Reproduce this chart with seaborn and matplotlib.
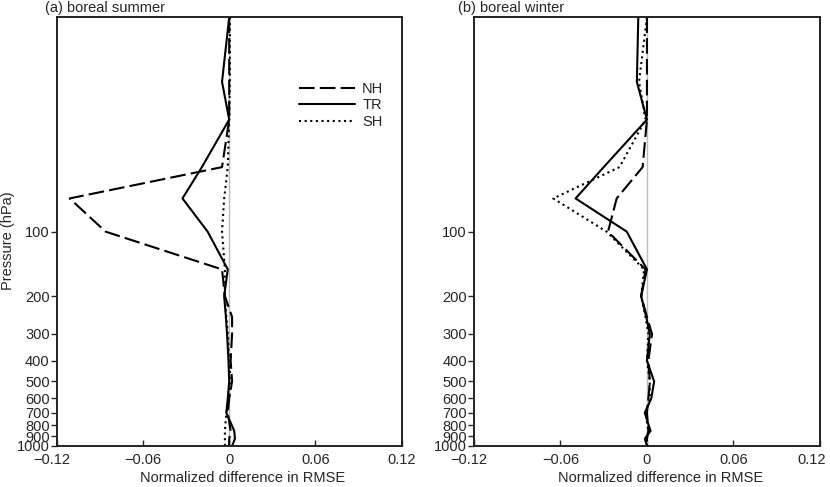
import numpy as np
import pandas as pd
import matplotlib
matplotlib.use("Agg")
import matplotlib.pyplot as plt
import matplotlib.transforms as mtrans
import seaborn as sns

# pressure levels (hPa), top to bottom
levels = [10, 20, 30, 50, 70, 100, 150, 200, 250, 300, 400, 500, 600, 700, 850, 925, 1000]

# (a) boreal summer
summer_nh = [0.0, 0.0, 0.0, -0.005, -0.111, -0.086, -0.005, -0.003, 0.002, 0.002, 0.001, 0.002, 0.0, -0.001, 0.001, 0.0, 0.0]
summer_tr = [0.0, -0.005, 0.0, -0.019, -0.0325, -0.015, -0.001, -0.0035, -0.0023, -0.0015, -0.0005, 0.0, -0.001, -0.002, 0.0035, 0.004, 0.002]
summer_sh = [0.0005, 0.0005, 0.0, -0.001, -0.0035, -0.005, -0.003, -0.003, -0.002, -0.001, 0.0, 0.001, 0.0, -0.002, -0.003, -0.003, -0.003]

# (b) boreal winter
winter_nh = [0.0, 0.0, 0.0, -0.003, -0.021, -0.027, -0.001, -0.004, 0.0, 0.0035, 0.001, 0.002, 0.001, 0.0, 0.001, 0.0, 0.0]
winter_tr = [-0.006, -0.007, 0.0, -0.030, -0.0495, -0.014, 0.0, -0.004, -0.0005, 0.002, 0.0, 0.005, 0.003, -0.0015, 0.0025, -0.0015, 0.0]
winter_sh = [0.0, -0.0055, -0.001, -0.019, -0.065, -0.028, -0.002, -0.004, -0.001, 0.001, 0.0, 0.002, 0.002, -0.001, 0.001, 0.0, 0.0]

regions = ["NH", "TR", "SH"]
xticks = [-0.12, -0.06, 0, 0.06, 0.12]
xticklabels = ["\u22120.12", "\u22120.06", "0", "0.06", "0.12"]
yticks = [100, 200, 300, 400, 500, 600, 700, 800, 900, 1000]

sns.set_style("white")
plt.rcParams["font.family"] = ["Liberation Sans", "DejaVu Sans"]
FS = 10.5


def make_df(nh, tr, sh):
    rows = []
    for name, vals in zip(regions, [nh, tr, sh]):
        for p, v in zip(levels, vals):
            rows.append({"region": name, "pres": p, "diff": v})
    return pd.DataFrame(rows)


def shift_label(lab, dx_px):
    lab.set_transform(lab.get_transform() + mtrans.ScaledTranslation(dx_px / 100, 0, fig.dpi_scale_trans))


fig = plt.figure(figsize=(8.3, 4.87), dpi=100)
ax1 = fig.add_axes([0.0683, 0.0842, 0.4157, 0.8803])
ax2 = fig.add_axes([0.571, 0.0842, 0.4169, 0.8803])

styles = {"NH": (0, (7.5, 2.5)), "TR": "-", "SH": (0, (1, 1.7))}

panels = [
    (ax1, make_df(summer_nh, summer_tr, summer_sh)),
    (ax2, make_df(winter_nh, winter_tr, winter_sh)),
]

for ax, df in panels:
    ax.axvline(0, color="#bbbbbb", lw=1, zorder=1)
    for name in regions:
        sub = df[df["region"] == name]
        sns.lineplot(data=sub, x="diff", y="pres", ax=ax, sort=False,
                     estimator=None, orient="y", color="black", lw=1.5,
                     linestyle=styles[name], label=name, legend=False)
    ax.set_yscale("log")
    ax.set_ylim(1000, 10)
    ax.set_xlim(-0.12, 0.12)
    ax.set_yticks(yticks)
    ax.set_yticklabels([str(t) for t in yticks])
    ax.yaxis.set_minor_locator(matplotlib.ticker.NullLocator())
    ax.set_xticks(xticks)
    ax.set_xticklabels(xticklabels)
    ax.tick_params(axis="y", direction="out", length=4, width=1,
                   labelsize=FS, pad=1, left=True)
    ax.tick_params(axis="x", direction="in", length=4, width=1,
                   labelsize=FS, pad=5, bottom=True)
    ax.set_xlabel("Normalized difference in RMSE", fontsize=FS, labelpad=2)
    ax.xaxis.set_label_coords(0.54, -0.058)
    ax.set_ylabel("")
    for s in ax.spines.values():
        s.set_color("#222222")
        s.set_linewidth(1.4)
    shift_label(ax.get_xticklabels()[0], -5)

# last x tick label of the right panel sits inside the figure edge
shift_label(ax2.get_xticklabels()[-1], -8)

ax1.set_ylabel("Pressure (hPa)", fontsize=FS)
ax1.yaxis.set_label_coords(-0.12, 0.48)
ax1.legend(loc="upper right", bbox_to_anchor=(0.985, 0.88), frameon=False,
           handlelength=3.8, handletextpad=0.5, labelspacing=0.18,
           fontsize=FS)

fig.text(0.054, 0.984, "(a) boreal summer", ha="left", va="center", fontsize=FS)
fig.text(0.552, 0.984, "(b) boreal winter", ha="left", va="center", fontsize=FS)

fig.savefig("out.png", dpi=100)
